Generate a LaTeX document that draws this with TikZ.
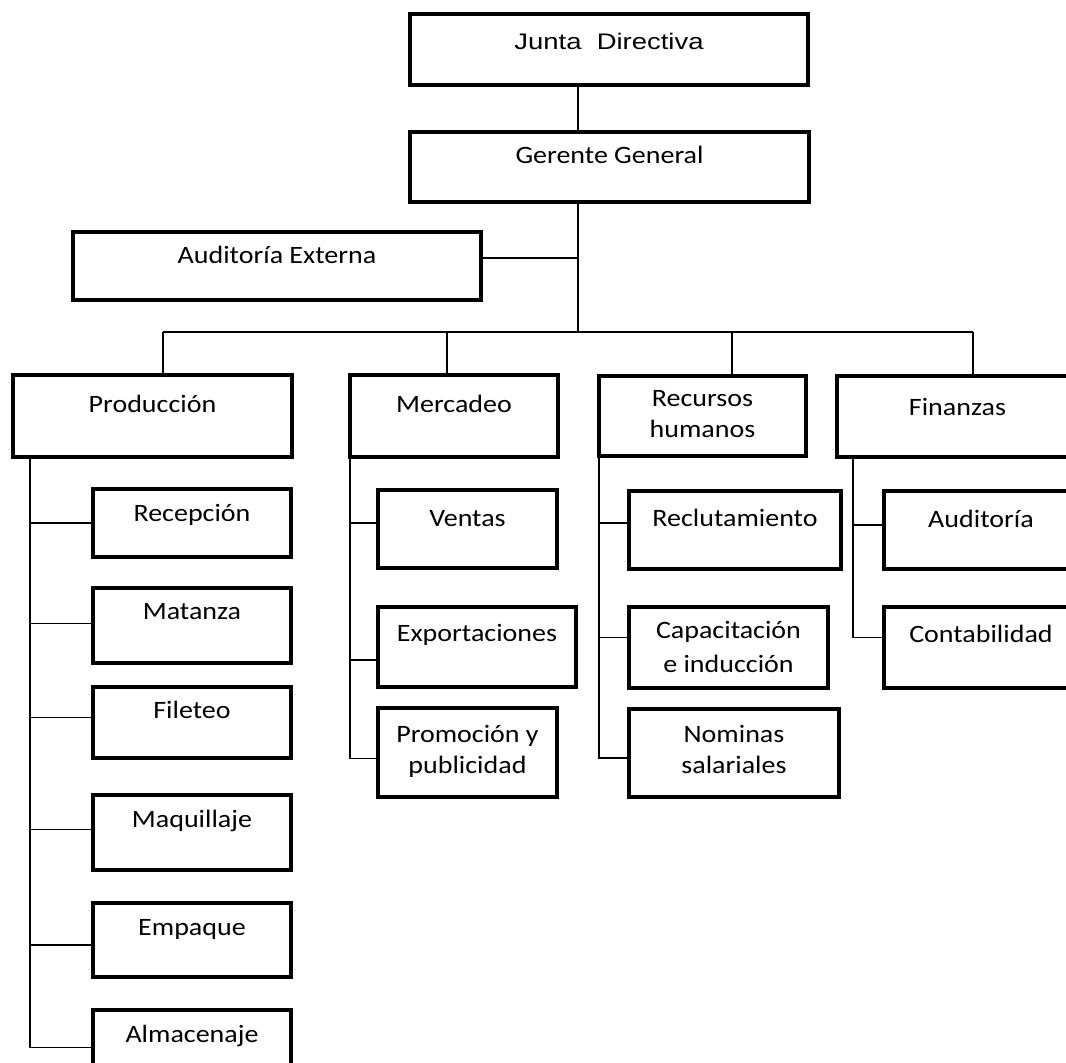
\documentclass[tikz,border=0pt]{standalone}
\usepackage{fontspec}
\setmainfont{Carlito}[FakeStretch=1.12]
\newfontfamily\juntafont{Liberation Sans}[FakeStretch=1.22]
\usepackage{tikz}
\usetikzlibrary{positioning}

\begin{document}
\begin{tikzpicture}[
    x=1pt, y=-1pt,
    box/.style={draw, line width=4.2pt, inner sep=0pt},
    lbl/.style={anchor=base, align=center, inner sep=0pt, yshift=-3pt, font=\fontsize{25}{31}\selectfont},
    conn/.style={line width=1.3pt}
]
\useasboundingbox (0,0) rectangle (1066,1063);
% top levels
\node[box, minimum width=398pt, minimum height=71pt] (junta) at (609,49.5) {};
\node[lbl, font=\juntafont\fontsize{22.5}{27}\selectfont] (juntaT) at ([yshift=-35pt]junta.north) {Junta\ \ Directiva};
\node[box, minimum width=399pt, minimum height=70pt] (gerente) at (609.5,167) {};
\node[lbl] (gerenteT) at ([yshift=-31pt]gerente.north) {Gerente General};
\node[box, minimum width=408pt, minimum height=68pt] (audExt) at (277,266) {};
\node[lbl] (audExtT) at ([yshift=-31pt]audExt.north) {Auditoría Externa};
% departments
\node[box, minimum width=279pt, minimum height=82pt] (prod) at (152.5,416) {};
\node[lbl] (prodT) at ([yshift=-37pt]prod.north) {Producción};
\node[box, minimum width=208pt, minimum height=82pt] (merc) at (454,416) {};
\node[lbl] (mercT) at ([yshift=-37pt]merc.north) {Mercadeo};
\node[box, minimum width=207pt, minimum height=80pt] (rh) at (702.5,416) {};
\node[lbl] (rhT) at ([yshift=-61pt]rh.north) {Recursos\\humanos};
\node[box, minimum width=241pt, minimum height=81pt] (fin) at (957.5,416.5) {};
\node[lbl] (finT) at ([yshift=-39pt]fin.north) {Finanzas};
% Produccion
\node[box, minimum width=198pt, minimum height=68pt] (recep) at (192,523) {};
\node[lbl] (recepT) at ([yshift=-32pt]recep.north) {Recepción};
\node[box, minimum width=198pt, minimum height=75pt] (matanza) at (192,625.5) {};
\node[lbl] (matanzaT) at ([yshift=-31pt]matanza.north) {Matanza};
\node[box, minimum width=198pt, minimum height=71pt] (fileteo) at (192,722.5) {};
\node[lbl] (fileteoT) at ([yshift=-31pt]fileteo.north) {Fileteo};
\node[box, minimum width=198pt, minimum height=75pt] (maquill) at (192,832.5) {};
\node[lbl] (maquillT) at ([yshift=-32pt]maquill.north) {Maquillaje};
\node[box, minimum width=198pt, minimum height=74pt] (empaque) at (192,940) {};
\node[lbl] (empaqueT) at ([yshift=-32pt]empaque.north) {Empaque};
\node[box, minimum width=198pt, minimum height=75pt] (almac) at (192,1047.5) {};
\node[lbl] (almacT) at ([yshift=-32pt]almac.north) {Almacenaje};
% Mercadeo
\node[box, minimum width=179pt, minimum height=78pt] (ventas) at (467.5,529) {};
\node[lbl] (ventasT) at ([yshift=-36pt]ventas.north) {Ventas};
\node[box, minimum width=198pt, minimum height=80pt] (expo) at (477,647) {};
\node[lbl] (expoT) at ([yshift=-34pt]expo.north) {Exportaciones};
\node[box, minimum width=179pt, minimum height=89pt] (promo) at (467.5,752.5) {};
\node[lbl] (promoT) at ([yshift=-65pt]promo.north) {Promoción y\\publicidad};
% Recursos humanos
\node[box, minimum width=212pt, minimum height=78pt] (reclu) at (735,530) {};
\node[lbl] (recluT) at ([yshift=-35pt]reclu.north) {Reclutamiento};
\node[box, minimum width=199pt, minimum height=81pt] (capac) at (728.5,647.5) {};
\node[lbl, font=\fontsize{25}{34}\selectfont] (capacT) at ([yshift=-65pt]capac.north) {Capacitación\\e inducción};
\node[box, minimum width=210pt, minimum height=88pt] (nomin) at (734,753) {};
\node[lbl] (nominT) at ([yshift=-64pt]nomin.north) {Nominas\\salariales};
% Finanzas
\node[box, minimum width=194pt, minimum height=78pt] (audit) at (981,530) {};
\node[lbl] (auditT) at ([yshift=-36pt]audit.north) {Auditoría};
\node[box, minimum width=194pt, minimum height=81pt] (conta) at (981,647.5) {};
\node[lbl] (contaT) at ([yshift=-35pt]conta.north) {Contabilidad};
% connectors
\coordinate (hub) at (578,332);
\coordinate (dP) at (163,332);
\coordinate (dM) at (447,332);
\coordinate (dR) at (732,332);
\coordinate (dF) at (973,332);
\draw[conn] (junta.south -| hub) -- (gerente.north -| hub);
\draw[conn] (gerente.south -| hub) -- (hub);
\draw[conn] ([yshift=8pt]audExt.east) -- ([yshift=8pt]audExt.east -| hub);
\draw[conn] (dP) -- (dF);
\draw[conn] (dP) -- (dP |- prod.north);
\draw[conn] (dM) -- (dM |- merc.north);
\draw[conn] (dR) -- (dR |- rh.north);
\draw[conn] (dF) -- (dF |- fin.north);
\foreach \b/\s in {recep/0,matanza/2,fileteo/5,maquill/3,empaque/-5,almac/0}
    \draw[conn] ([xshift=19pt]prod.south west) |- ([yshift=\s pt]\b.west);
\foreach \b/\s in {ventas/6,expo/-13,promo/-6}
    \draw[conn] ([xshift=2pt]merc.south west) |- ([yshift=\s pt]\b.west);
\foreach \b/\s in {reclu/7,capac/10,nomin/-5}
    \draw[conn] ([xshift=2pt]rh.south west) |- ([yshift=\s pt]\b.west);
\foreach \b/\s in {audit/5,conta/10}
    \draw[conn] ([xshift=18pt]fin.south west) |- ([yshift=\s pt]\b.west);
\end{tikzpicture}
\end{document}
